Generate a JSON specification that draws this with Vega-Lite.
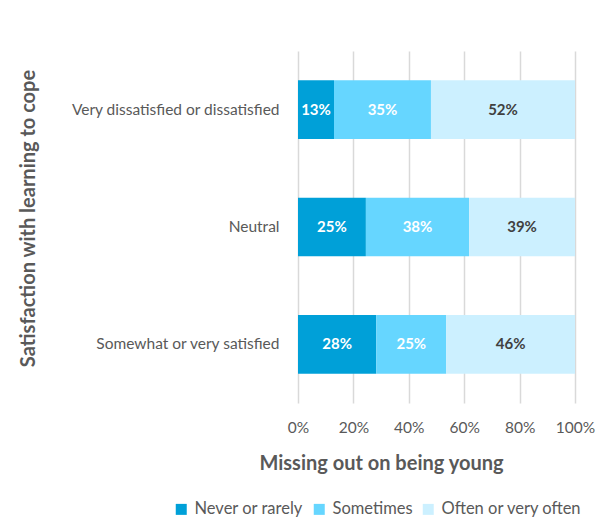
{
  "$schema": "https://vega.github.io/schema/vega-lite/v6.json",
  "autosize": {"type": "none"},
  "width": 277,
  "height": 352,
  "padding": {"left": 298, "top": 51, "right": 32, "bottom": 129},
  "background": "white",
  "config": {
    "view": {"stroke": null},
    "font": "Lato",
    "axis": {"labelFont": "Lato", "titleFont": "Lato", "labelColor": "#595959", "titleColor": "#595959"}
  },
  "data": {
    "values": [
      {"satisfaction": "Very dissatisfied or dissatisfied", "response": "Never or rarely", "idx": 1, "value": 0.13},
      {"satisfaction": "Very dissatisfied or dissatisfied", "response": "Sometimes", "idx": 2, "value": 0.35},
      {"satisfaction": "Very dissatisfied or dissatisfied", "response": "Often or very often", "idx": 3, "value": 0.52},
      {"satisfaction": "Neutral", "response": "Never or rarely", "idx": 1, "value": 0.25},
      {"satisfaction": "Neutral", "response": "Sometimes", "idx": 2, "value": 0.38},
      {"satisfaction": "Neutral", "response": "Often or very often", "idx": 3, "value": 0.39},
      {"satisfaction": "Somewhat or very satisfied", "response": "Never or rarely", "idx": 1, "value": 0.28},
      {"satisfaction": "Somewhat or very satisfied", "response": "Sometimes", "idx": 2, "value": 0.25},
      {"satisfaction": "Somewhat or very satisfied", "response": "Often or very often", "idx": 3, "value": 0.46}
    ]
  },
  "encoding": {
    "y": {
      "field": "satisfaction",
      "type": "nominal",
      "sort": ["Very dissatisfied or dissatisfied", "Neutral", "Somewhat or very satisfied"],
      "scale": {"paddingInner": 0.5, "paddingOuter": 0.25},
      "axis": {
        "title": "Satisfaction with learning to cope",
        "titleFontSize": 20,
        "titleFontWeight": "bold",
        "titleX": -270,
        "titleY": 167,
        "titleAngle": -90,
        "titleAlign": "center",
        "titleBaseline": "middle",
        "labelFontSize": 15.5,
        "labelPadding": 19,
        "ticks": false,
        "domain": false,
        "grid": false,
        "labelLimit": 300
      }
    },
    "x": {
      "field": "value",
      "type": "quantitative",
      "stack": "normalize",
      "scale": {"domain": [0, 1]},
      "axis": {
        "title": "Missing out on being young",
        "titleFontSize": 20,
        "titleFontWeight": "bold",
        "titleX": 83,
        "titleY": 60,
        "titleAlign": "center",
        "titleBaseline": "middle",
        "values": [0, 0.2, 0.4, 0.6, 0.8, 1],
        "format": ".0%",
        "labelFontSize": 15.5,
        "labelPadding": 17,
        "labelFlush": false,
        "ticks": false,
        "domain": false,
        "grid": true,
        "gridColor": "#d9d9d9",
        "gridWidth": 1.5
      }
    },
    "order": {"field": "idx", "type": "quantitative"}
  },
  "layer": [
    {
      "mark": {"type": "bar"},
      "encoding": {
        "color": {
          "field": "response",
          "type": "nominal",
          "scale": {
            "domain": ["Never or rarely", "Sometimes", "Often or very often"],
            "range": ["#00a0d8", "#66d6ff", "#ccf0ff"]
          },
          "legend": {
            "title": null,
            "orient": "none",
            "direction": "horizontal",
            "legendX": -125,
            "legendY": 450,
            "symbolType": "square",
            "symbolSize": 121,
            "symbolStrokeWidth": 0,
            "symbolOpacity": 1,
            "labelFont": "Lato",
            "labelFontSize": 16.5,
            "labelColor": "#595959",
            "labelOffset": 5,
            "columnPadding": 7
          }
        }
      }
    },
    {
      "mark": {"type": "text", "fontSize": 15, "fontWeight": "bold", "font": "Lato", "baseline": "middle", "align": "center"},
      "encoding": {
        "x": {"field": "value", "type": "quantitative", "stack": "normalize", "bandPosition": 0.5},
        "text": {"field": "value", "type": "quantitative", "format": ".0%"},
        "color": {
          "condition": {"test": "datum.response == 'Often or very often'", "value": "#404040"},
          "value": "white"
        }
      }
    }
  ]
}
